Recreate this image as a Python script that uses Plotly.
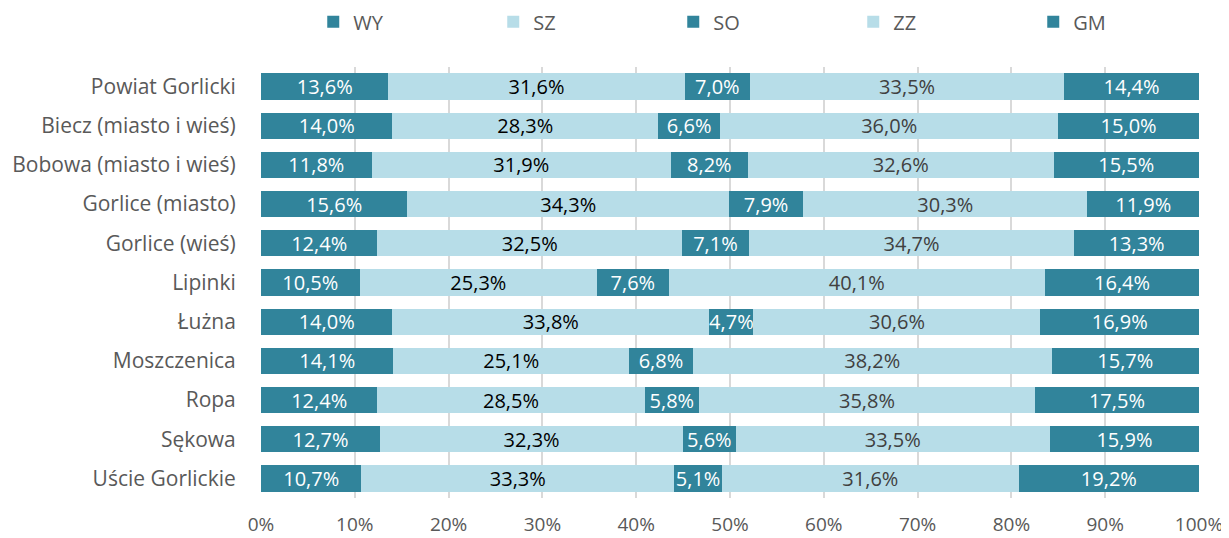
import plotly.graph_objects as go

categories = ["Powiat Gorlicki", "Biecz (miasto i wieś)", "Bobowa (miasto i wieś)", "Gorlice (miasto)",
              "Gorlice (wieś)", "Lipinki", "Łużna", "Moszczenica", "Ropa", "Sękowa", "Uście Gorlickie"]
WY = [13.6, 14.0, 11.8, 15.6, 12.4, 10.5, 14.0, 14.1, 12.4, 12.7, 10.7]
SZ = [31.6, 28.3, 31.9, 34.3, 32.5, 25.3, 33.8, 25.1, 28.5, 32.3, 33.3]
SO = [7.0, 6.6, 8.2, 7.9, 7.1, 7.6, 4.7, 6.8, 5.8, 5.6, 5.1]
ZZ = [33.5, 36.0, 32.6, 30.3, 34.7, 40.1, 30.6, 38.2, 35.8, 33.5, 31.6]
GM = [14.4, 15.0, 15.5, 11.9, 13.3, 16.4, 16.9, 15.7, 17.5, 15.9, 19.2]
tick_vals = [0, 10, 20, 30, 40, 50, 60, 70, 80, 90, 100]
tick_text = [f"{v}%" for v in tick_vals]

DARK = "#31849B"
LIGHT = "#B7DDE8"
FONT = "Open Sans, sans-serif"
FS = 20

series = [("WY", WY, DARK, "white"), ("SZ", SZ, LIGHT, "black"), ("SO", SO, DARK, "white"),
          ("ZZ", ZZ, LIGHT, "#404040"), ("GM", GM, DARK, "white")]

fig = go.Figure()
for name, vals, color, tcolor in series:
    fig.add_trace(go.Bar(
        y=categories, x=vals, name=name, orientation="h",
        marker=dict(color=color, line=dict(width=0)),
        text=[f"{v:.1f}%".replace(".", ",") for v in vals],
        textposition="inside", insidetextanchor="middle",
        textfont=dict(color=tcolor, size=FS, family=FONT),
        constraintext="none", cliponaxis=False,
    ))

fig.update_layout(
    barmode="stack", barnorm="percent", bargap=0.33,
    width=1221, height=530,
    margin=dict(l=253, r=30, t=59, b=40),
    plot_bgcolor="white", paper_bgcolor="white",
    font=dict(family=FONT, size=FS, color="#595959"),
    uniformtext=dict(minsize=FS, mode="show"),
    legend=dict(orientation="h", xref="container", x=0.25, xanchor="left",
                yref="container", y=0.974, yanchor="middle",
                entrywidth=135, entrywidthmode="pixels",
                font=dict(size=FS, color="#595959"), itemwidth=30,
                traceorder="normal"),
    xaxis=dict(range=[0, 100], tickvals=tick_vals, ticktext=tick_text, automargin=False,
               showgrid=True, gridcolor="#D9D9D9", gridwidth=1.5, zeroline=False,
               ticks="outside", ticklen=9, tickcolor="rgba(0,0,0,0)",
               tickfont=dict(size=19, color="#595959")),
    yaxis=dict(autorange="reversed", ticks="outside", ticklen=20, tickcolor="rgba(0,0,0,0)",
               showgrid=False, automargin=False,
               tickfont=dict(size=21, color="#595959")),
)
fig.write_html("out.html")
